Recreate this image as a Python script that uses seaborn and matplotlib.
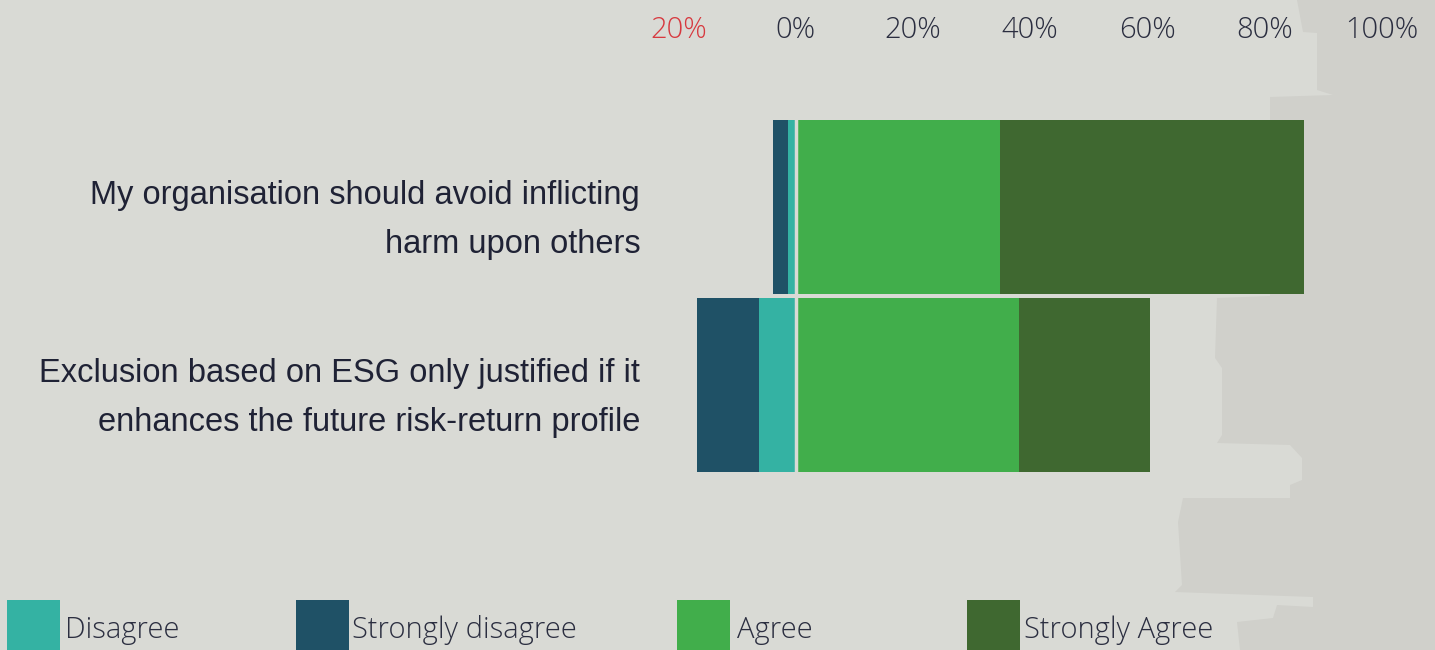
import numpy as np
import pandas as pd
import matplotlib
matplotlib.use("Agg")
import matplotlib.pyplot as plt
from matplotlib.patches import Polygon, Rectangle
import seaborn as sns

# survey data (% of respondents)
statements = ["My organisation should avoid inflicting\nharm upon others",
              "Exclusion based on ESG only justified if it\nenhances the future risk-return profile"]
strongly_disagree = [2.6, 10.6]
disagree = [1.3, 6.2]
agree = [34.9, 38.1]
strongly_agree = [51.8, 22.3]

legend_labels = ["Disagree", "Strongly disagree", "Agree", "Strongly Agree"]
tick_values = [-20, 0, 20, 40, 60, 80, 100]
tick_labels = ["20%", "0%", "20%", "40%", "60%", "80%", "100%"]

c_dis = "#34b2a3"
c_sdis = "#1f5166"
c_agr = "#41ae4b"
c_sagr = "#3f6830"
bg = "#d9dad5"
txt = "#2b2e40"

df = pd.DataFrame({"statement": statements,
                   "sd": strongly_disagree, "d": disagree,
                   "a": agree, "sa": strongly_agree})
df["neg_outer"] = -(df["sd"] + df["d"])
df["neg_inner"] = -df["d"]
df["pos_outer"] = df["a"] + df["sa"]
df["pos_inner"] = df["a"]

sns.set_style("white")
plt.rcParams["font.family"] = ["Open Sans", "DejaVu Sans"]

fig = plt.figure(figsize=(14.35, 6.5), dpi=100)
fig.patch.set_facecolor(bg)

# faint background silhouette on the right
pts = [(1297, 0), (1303, 32), (1317, 33), (1317, 90), (1333, 95), (1270, 97),
       (1270, 296), (1217, 298), (1215, 358), (1222, 368), (1222, 435), (1217, 443),
       (1290, 445), (1302, 458), (1302, 480), (1290, 485), (1290, 498), (1183, 498),
       (1178, 522), (1182, 585), (1175, 592), (1313, 597), (1313, 607), (1277, 605),
       (1273, 618), (1237, 622), (1240, 650), (1435, 650), (1435, 0)]
fig.patches.append(Polygon([(x / 1435, 1 - y / 650) for x, y in pts], closed=True,
                           transform=fig.transFigure, facecolor="#d0d0cb",
                           edgecolor="none", zorder=-5))

ax = fig.add_axes([0.4645, 0.2, 0.5313, 0.7077])
ax.set_facecolor("none")
ax.set_zorder(2)

w = 0.978
sns.barplot(data=df, y="statement", x="neg_outer", color=c_sdis, width=w,
            saturation=1, orient="h", ax=ax)
sns.barplot(data=df, y="statement", x="neg_inner", color=c_dis, width=w,
            saturation=1, orient="h", ax=ax)
sns.barplot(data=df, y="statement", x="pos_outer", color=c_sagr, width=w,
            saturation=1, orient="h", ax=ax)
sns.barplot(data=df, y="statement", x="pos_inner", color=c_agr, width=w,
            saturation=1, orient="h", ax=ax)
for p in ax.patches:
    p.set_edgecolor("none")

# small gap at zero, same colour as the background
ax.axvline(0, color=bg, lw=2.5, zorder=5)

ax.set_xlim(-22, 108)
ax.set_ylim(1.758, -0.826)
ax.xaxis.tick_top()
ax.set_xticks(tick_values)
ax.set_xticklabels(tick_labels, fontsize=21, color=txt, fontweight="light")
ax.get_xticklabels()[0].set_color("#d7393f")
ax.tick_params(axis="x", length=0, pad=11)
ax.tick_params(axis="y", length=0, pad=19)
ax.set_yticks([0, 1])
ax.set_yticklabels(statements, fontfamily="Liberation Sans", fontsize=23.5,
                   color="#1f2235", linespacing=1.75)
ax.set_xlabel("")
ax.set_ylabel("")
for s in ax.spines.values():
    s.set_visible(False)

# legend along the bottom
sq_x = [7, 296, 677, 967]
tx_x = [65, 352, 737, 1024]
for lab, col, sx, tx in zip(legend_labels, [c_dis, c_sdis, c_agr, c_sagr], sq_x, tx_x):
    fig.patches.append(Rectangle((sx / 1435, 1 - 653 / 650), 53 / 1435, 53 / 650,
                                 transform=fig.transFigure, facecolor=col,
                                 edgecolor="none"))
    fig.text(tx / 1435, 1 - 638 / 650, lab, fontsize=21, color=txt,
             fontweight="light", va="baseline", ha="left")

fig.savefig("out.png", dpi=100, facecolor=bg)
